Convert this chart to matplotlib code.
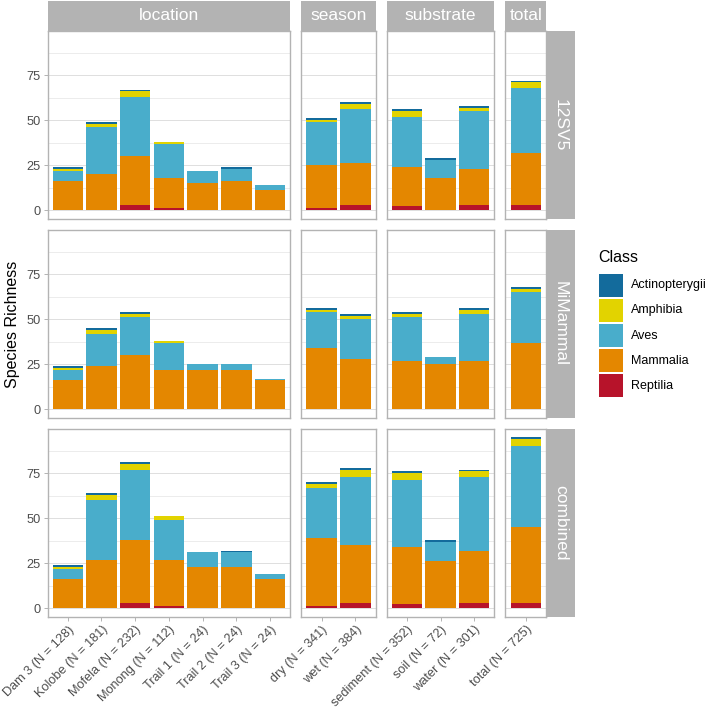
import matplotlib
matplotlib.use('Agg')
import matplotlib.pyplot as plt
from matplotlib.patches import Rectangle

plt.rcParams['font.family'] = ['Liberation Sans', 'DejaVu Sans']

# facets
col_groups = ['location', 'season', 'substrate', 'total']
row_markers = ['12SV5', 'MiMammal', 'combined']
location_labels = ['Dam 3 (N = 128)', 'Kolobe (N = 181)', 'Mofela (N = 232)', 'Monong (N = 112)',
                   'Trail 1 (N = 24)', 'Trail 2 (N = 24)', 'Trail 3 (N = 24)']
season_labels = ['dry (N = 341)', 'wet (N = 384)']
substrate_labels = ['sediment (N = 352)', 'soil (N = 72)', 'water (N = 301)']
total_labels = ['total (N = 725)']
group_labels = [location_labels, season_labels, substrate_labels, total_labels]

# legend order (top of stack first)
classes = ['Actinopterygii', 'Amphibia', 'Aves', 'Mammalia', 'Reptilia']
class_colors = ['#136B9C', '#E2D300', '#49ADCB', '#E48700', '#B7132A']

# values in category order: 7 locations, 2 seasons, 3 substrates, total
sv5_reptilia = [0, 0, 3, 1, 0, 0, 0, 1, 3, 2, 0, 3, 3]
sv5_mammalia = [16, 20, 27, 17, 15, 16, 11, 24, 23, 22, 18, 20, 29]
sv5_aves = [6, 26, 33, 19, 7, 7, 3, 24, 30, 28, 10, 32, 36]
sv5_amphibia = [1, 2, 3, 1, 0, 0, 0, 1, 3, 3, 0, 2, 3]
sv5_actino = [1, 1, 1, 0, 0, 1, 0, 1, 1, 1, 1, 1, 1]

mim_reptilia = [0, 0, 0, 0, 0, 0, 0, 0, 0, 0, 0, 0, 0]
mim_mammalia = [16, 24, 30, 22, 22, 22, 16, 34, 28, 27, 25, 27, 37]
mim_aves = [6, 18, 21, 15, 3, 3, 1, 20, 22, 24, 4, 26, 28]
mim_amphibia = [1, 2, 2, 1, 0, 0, 0, 1, 2, 2, 0, 2, 2]
mim_actino = [1, 1, 1, 0, 0, 0, 0, 1, 1, 1, 0, 1, 1]

comb_reptilia = [0, 0, 3, 1, 0, 0, 0, 1, 3, 2, 0, 3, 3]
comb_mammalia = [16, 27, 35, 26, 23, 23, 16, 38, 32, 32, 26, 29, 42]
comb_aves = [6, 33, 39, 22, 8, 8, 3, 28, 38, 37, 11, 41, 45]
comb_amphibia = [1, 3, 3, 2, 0, 0, 0, 2, 4, 4, 0, 3, 4]
comb_actino = [1, 1, 1, 0, 0, 1, 0, 1, 1, 1, 1, 1, 1]

# per marker, in legend order
row_data = [
    [sv5_actino, sv5_amphibia, sv5_aves, sv5_mammalia, sv5_reptilia],
    [mim_actino, mim_amphibia, mim_aves, mim_mammalia, mim_reptilia],
    [comb_actino, comb_amphibia, comb_aves, comb_mammalia, comb_reptilia],
]

W = H = 709
fig = plt.figure(figsize=(W / 100, H / 100), dpi=100)


def px_axes(x0, y0, x1, y1):
    return fig.add_axes([x0 / W, 1 - y1 / H, (x1 - x0) / W, (y1 - y0) / H])


GRID = '#DEDEDE'
BORDER = '#B3B3B3'
STRIP = '#B3B3B3'
TXT = '#4D4D4D'

unit = 33.73
gap = 11
left = 47.5
col_x = []
x = left
for labels in group_labels:
    w = (len(labels) + 0.2) * unit
    col_x.append((x, x + w))
    x += w + gap

row_h = 187.8
row_gap = 11.2
row_top0 = 30.8
row_y = [(row_top0 + i * (row_h + row_gap), row_top0 + i * (row_h + row_gap) + row_h) for i in range(3)]

for r, marker in enumerate(row_markers):
    start = 0
    for c, labels in enumerate(group_labels):
        n = len(labels)
        x0, x1 = col_x[c]
        y0, y1 = row_y[r]
        ax = px_axes(x0, y0, x1, y1)
        xs = list(range(n))
        bottom = [0] * n
        for k in reversed(range(len(classes))):
            vals = row_data[r][k][start:start + n]
            ax.bar(xs, vals, width=0.9, bottom=bottom, color=class_colors[k], linewidth=0, zorder=2)
            bottom = [b + v for b, v in zip(bottom, vals)]
        start += n

        ax.set_xlim(-0.6, n - 0.4)
        ax.set_ylim(-4.75, 99.75)
        ax.set_yticks([0, 25, 50, 75])
        ax.set_yticks([12.5, 37.5, 62.5, 87.5], minor=True)
        ax.grid(axis='y', which='major', color=GRID, linewidth=0.7, zorder=0)
        ax.grid(axis='y', which='minor', color=GRID, linewidth=0.4, zorder=0)
        ax.set_axisbelow(True)
        for s in ax.spines.values():
            s.set_color(BORDER)
            s.set_linewidth(1.0)
        ax.tick_params(which='minor', length=0)
        ax.tick_params(which='major', length=2.75, width=0.7, color=BORDER,
                       labelsize=9.2, labelcolor=TXT, pad=2.2)
        ax.set_xticks(xs)
        if r == 2:
            ax.set_xticklabels(labels, rotation=45, ha='right', va='top', rotation_mode='anchor')
        else:
            ax.tick_params(axis='x', length=0, labelbottom=False)
        if c != 0:
            ax.tick_params(axis='y', length=0, labelleft=False)

        # top strips
        if r == 0:
            sax = px_axes(x0, 1, x1, y0)
            sax.set_facecolor(STRIP)
            sax.set_xticks([])
            sax.set_yticks([])
            for s in sax.spines.values():
                s.set_visible(False)
            sax.text(0.5, 0.5, col_groups[c], color='white', fontsize=12.5,
                     ha='center', va='center', transform=sax.transAxes)

    # right strips
    y0, y1 = row_y[r]
    sx0 = col_x[-1][1]
    sax = px_axes(sx0, y0, sx0 + 29, y1)
    sax.set_facecolor(STRIP)
    sax.set_xticks([])
    sax.set_yticks([])
    for s in sax.spines.values():
        s.set_visible(False)
    sax.text(0.5, 0.5, marker, color='white', fontsize=12.5, rotation=-90,
             ha='center', va='center', transform=sax.transAxes)

fig.text(12.5 / W, 1 - 324 / H, 'Species Richness', rotation=90, fontsize=11.5,
         ha='center', va='center')

# legend
fig.text(598 / W, 1 - 258 / H, 'Class', fontsize=11.5, ha='left', va='center')
for i, (name, col) in enumerate(zip(classes, class_colors)):
    top = 274 + i * 25
    fig.patches.append(Rectangle((599 / W, 1 - (top + 23) / H), 23.5 / W, 23 / H,
                                 transform=fig.transFigure, facecolor=col, edgecolor='none'))
    fig.text(631 / W, 1 - (top + 11.5) / H, name, fontsize=9, ha='left', va='center')

fig.savefig('out.png', dpi=100)
plt.close(fig)
